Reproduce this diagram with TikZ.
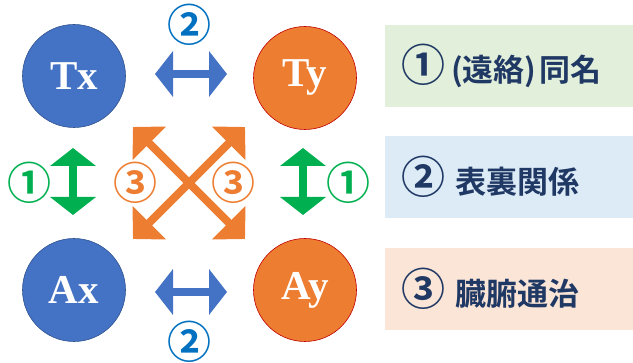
\documentclass[tikz,border=0pt]{standalone}
\usepackage{fontspec}
\setmainfont{Liberation Serif}
\newfontfamily\cjk{Noto Sans CJK JP}[BoldFont={Noto Sans CJK JP Bold}]
\usetikzlibrary{arrows.meta}
\definecolor{cblue}{HTML}{4472C4}
\definecolor{cblueline}{HTML}{2F528F}
\definecolor{corange}{HTML}{ED7D31}
\definecolor{corangeline}{HTML}{C00000}
\definecolor{cgreen}{HTML}{00B050}
\definecolor{cnum}{HTML}{0070C0}
\definecolor{navy}{HTML}{1F3864}
\definecolor{bgreen}{HTML}{E2EFDA}
\definecolor{bblue}{HTML}{DDEBF7}
\definecolor{borange}{HTML}{FBE5D6}
\newcommand{\cnumb}[1]{{\fontsize{44}{44}\selectfont #1}}
\tikzset{
  ball/.style={circle, minimum size=103pt, inner sep=0pt, line width=0.6pt, text=white,
    font=\fontsize{41}{41}\selectfont\bfseries},
  blueball/.style={ball, fill=cblue, draw=cblueline},
  orangeball/.style={ball, fill=corange, draw=corangeline},
  numlbl/.style={inner sep=0pt, font=\cjk\bfseries\fontsize{44}{44}\selectfont},
  blockarrow/.style={line width=8pt,
    {Triangle[width=45pt,length=18pt]}-{Triangle[width=45pt,length=18pt]}},
  xarrow/.style={draw=corange, line width=8pt,
    {Triangle[width=46pt,length=23pt]}-{Triangle[width=46pt,length=23pt]}},
  legend/.style={anchor=north west, minimum width=248pt, minimum height=82pt,
    inner xsep=16pt, text width=216pt, align=left, text=navy,
    font=\cjk\bfseries\fontsize{31}{31}\selectfont}
}
\begin{document}
\begin{tikzpicture}[x=1pt,y=-1pt]
\useasboundingbox (0,0) rectangle (633,363);
% circles
\node[blueball] (tx) at (74,76) {Tx};
\node[orangeball] (ty) at (305,78) {Ty};
\node[blueball] (ax) at (74,290) {Ax};
\node[orangeball] (ay) at (305,290) {Ay};
% blue horizontal arrows
\coordinate (b1a) at (155,74); \coordinate (b1b) at (227,74);
\coordinate (b2a) at (155,292); \coordinate (b2b) at (227,292);
\draw[blockarrow, draw=cblue] (b1a) -- (b1b);
\draw[blockarrow, draw=cblue] (b2a) -- (b2b);
% green vertical arrows
\coordinate (g1a) at (73,148); \coordinate (g1b) at (73,215);
\coordinate (g2a) at (303,148); \coordinate (g2b) at (303,215);
\draw[blockarrow, draw=cgreen] (g1a) -- (g1b);
\draw[blockarrow, draw=cgreen] (g2a) -- (g2b);
% orange X
\coordinate (xa) at (133,127); \coordinate (xb) at (245,239);
\coordinate (xc) at (245,127); \coordinate (xd) at (133,239);
\draw[xarrow] (xa) -- (xb);
\draw[xarrow] (xc) -- (xd);
% circled numbers
\node[numlbl, text=cnum] (n2t) at (189,25) {②};
\node[numlbl, text=cnum] (n2b) at (189,342) {②};
\node[numlbl, text=cgreen] (n1l) at (29,183) {①};
\node[numlbl, text=cgreen] (n1r) at (348,183) {①};
\node[numlbl, text=corange] (n3l) at (135,183) {③};
\node[numlbl, text=corange] (n3r) at (233,183) {③};
% legend boxes
\node[legend, fill=bgreen] (l1) at (385,25) {\cnumb{①}\hspace{6pt}(遠絡)\hspace{3pt}同名};
\node[legend, fill=bblue] (l2) at (385,136) {\cnumb{②}\hspace{10pt}表裏関係};
\node[legend, fill=borange] (l3) at (385,248) {\cnumb{③}\hspace{10pt}臓腑通治};
\end{tikzpicture}
\end{document}
